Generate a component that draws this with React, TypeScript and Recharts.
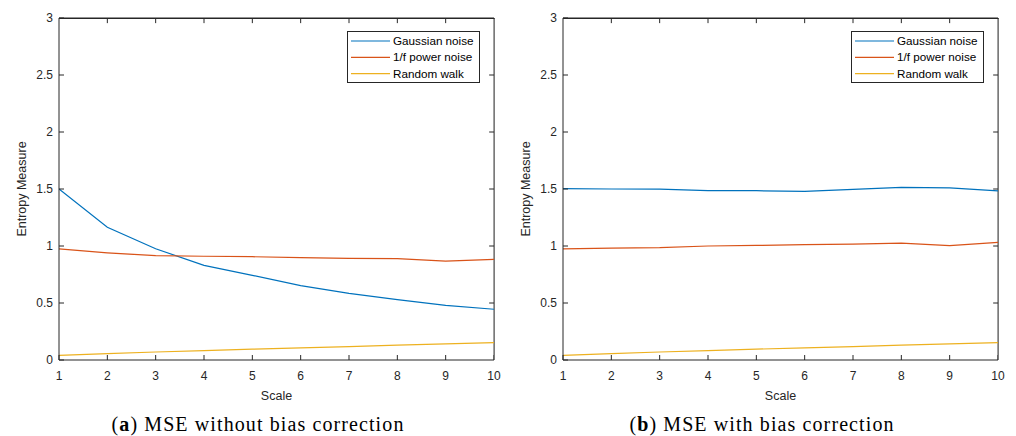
import React from "react";
import { LineChart, Line, XAxis, YAxis, Legend, Label, ReferenceLine } from "recharts";

const scales = [1, 2, 3, 4, 5, 6, 7, 8, 9, 10];
const xTicks = [1, 2, 3, 4, 5, 6, 7, 8, 9, 10];
const yTicks = [0, 0.5, 1, 1.5, 2, 2.5, 3];

const gaussianA = [1.5, 1.164, 0.976, 0.83, 0.743, 0.652, 0.585, 0.529, 0.48, 0.445];
const pinkA = [0.974, 0.94, 0.915, 0.91, 0.906, 0.898, 0.892, 0.889, 0.868, 0.883];
const walkA = [0.041, 0.056, 0.07, 0.083, 0.095, 0.107, 0.118, 0.13, 0.141, 0.152];

const gaussianB = [1.503, 1.5, 1.499, 1.486, 1.485, 1.479, 1.497, 1.515, 1.509, 1.483];
const pinkB = [0.974, 0.981, 0.985, 1.0, 1.005, 1.012, 1.017, 1.026, 1.003, 1.032];
const walkB = [0.041, 0.056, 0.07, 0.083, 0.095, 0.107, 0.118, 0.13, 0.141, 0.152];

const seriesNames = ["Gaussian noise", "1/f power noise", "Random walk"];
const seriesColors = ["#0072BD", "#D95319", "#EDB120"];

const FONT = '"Liberation Sans", Arial, Helvetica, sans-serif';
const AX = "#262626";
const X_MIN = 1;
const X_MAX = 10;
const Y_MIN = 0;
const Y_MAX = 3;
const TICK_DX = 0.1;
const TICK_DY = 0.045;

function build(g: number[], p: number[], w: number[]) {
  return scales.map((s, i) => ({ scale: s, gauss: g[i], pink: p[i], walk: w[i] }));
}

function LegendBox() {
  return (
    <svg width={133} height={52} style={{ display: "block", overflow: "visible" }}>
      <rect x={0.5} y={0.5} width={132} height={51} fill="#fff" stroke={AX} strokeWidth={1} />
      {seriesNames.map((n, i) => (
        <g key={n}>
          <line x1={4} x2={43} y1={10 + i * 16.3} y2={10 + i * 16.3} stroke={seriesColors[i]} strokeWidth={1.2} />
          <text x={46} y={10 + i * 16.3} dy="0.35em" fontFamily={FONT} fontSize={11.7} fill="#000">
            {n}
          </text>
        </g>
      ))}
    </svg>
  );
}

function YLabel(props: any) {
  const vb = props.viewBox || {};
  const cx = 22;
  const cy = vb.y + vb.height / 2;
  return (
    <text x={cx} y={cy} transform={`rotate(-90 ${cx} ${cy})`} textAnchor="middle" dominantBaseline="central" fontFamily={FONT} fontSize={12.5} fill={AX}>
      Entropy Measure
    </text>
  );
}

function XLabel(props: any) {
  const vb = props.viewBox || {};
  const cx = vb.x + vb.width / 2;
  return (
    <text x={cx} y={400} textAnchor="middle" fontFamily={FONT} fontSize={12.5} fill={AX}>
      Scale
    </text>
  );
}

function Panel({ data, left }: { data: any[]; left: number }) {
  const tickStyle = { fontFamily: FONT, fontSize: 12, fill: AX };
  return (
    <div style={{ position: "absolute", left, top: 0, width: 510, height: 436 }}>
      <LineChart width={510} height={436} data={data} margin={{ top: 18, left: 14, right: 16, bottom: 46 }}>
        <XAxis
          dataKey="scale"
          type="number"
          domain={[X_MIN, X_MAX]}
          allowDataOverflow
          ticks={xTicks}
          height={30}
          tickSize={-5}
          tickMargin={16}
          tick={tickStyle}
          stroke={AX}
          axisLine={{ stroke: AX }}
          tickLine={{ stroke: AX }}
          interval={0}
        >
          <Label content={<XLabel />} />
        </XAxis>
        <YAxis
          type="number"
          domain={[Y_MIN, Y_MAX]}
          allowDataOverflow
          ticks={yTicks}
          width={45}
          tickSize={-5}
          tickMargin={11}
          tick={tickStyle}
          stroke={AX}
          axisLine={{ stroke: AX }}
          tickLine={{ stroke: AX }}
          interval={0}
        >
          <Label content={<YLabel />} />
        </YAxis>
        <ReferenceLine y={Y_MAX} stroke={AX} strokeWidth={1} ifOverflow="extendDomain" />
        <ReferenceLine x={X_MAX} stroke="#7a7a7a" strokeWidth={1.4} ifOverflow="extendDomain" />
        {xTicks.slice(1, -1).map((t) => (
          <ReferenceLine
            key={"tx" + t}
            segment={[{ x: t, y: Y_MAX }, { x: t, y: Y_MAX - TICK_DY }]}
            stroke={AX}
            strokeWidth={1}
          />
        ))}
        {yTicks.slice(1, -1).map((t) => (
          <ReferenceLine
            key={"ty" + t}
            segment={[{ x: X_MAX, y: t }, { x: X_MAX - TICK_DX, y: t }]}
            stroke={AX}
            strokeWidth={1}
          />
        ))}
        <Legend
          content={() => <LegendBox />}
          wrapperStyle={{ position: "absolute", left: 347, top: 31, width: 0, height: 0, overflow: "visible" }}
        />
        <Line dataKey="gauss" name={seriesNames[0]} stroke={seriesColors[0]} strokeWidth={1.2} dot={false} isAnimationActive={false} />
        <Line dataKey="pink" name={seriesNames[1]} stroke={seriesColors[1]} strokeWidth={1.2} dot={false} isAnimationActive={false} />
        <Line dataKey="walk" name={seriesNames[2]} stroke={seriesColors[2]} strokeWidth={1.2} dot={false} isAnimationActive={false} />
      </LineChart>
      <div
        style={{
          position: "absolute",
          left: 59,
          top: 18,
          width: 436,
          height: 342,
          boxSizing: "border-box",
          borderTop: `1px solid ${AX}`,
          borderRight: "1.4px solid #7a7a7a",
          pointerEvents: "none",
        }}
      />
    </div>
  );
}

const captionStyle: React.CSSProperties = {
  position: "absolute",
  top: 412,
  fontFamily: '"Liberation Serif", "DejaVu Serif", serif',
  fontSize: 20,
  letterSpacing: 1.1,
  color: "#000",
  whiteSpace: "nowrap",
  transform: "translateX(-50%)",
  lineHeight: "24px",
};

export default function App() {
  return (
    <div style={{ position: "absolute", left: 0, top: 0, width: 1016, height: 436, background: "#fff", overflow: "hidden" }}>
      <Panel data={build(gaussianA, pinkA, walkA)} left={0} />
      <Panel data={build(gaussianB, pinkB, walkB)} left={504} />
      <div style={{ ...captionStyle, left: 258 }}>
        (<b>a</b>) MSE without bias correction
      </div>
      <div style={{ ...captionStyle, left: 762 }}>
        (<b>b</b>) MSE with bias correction
      </div>
    </div>
  );
}
